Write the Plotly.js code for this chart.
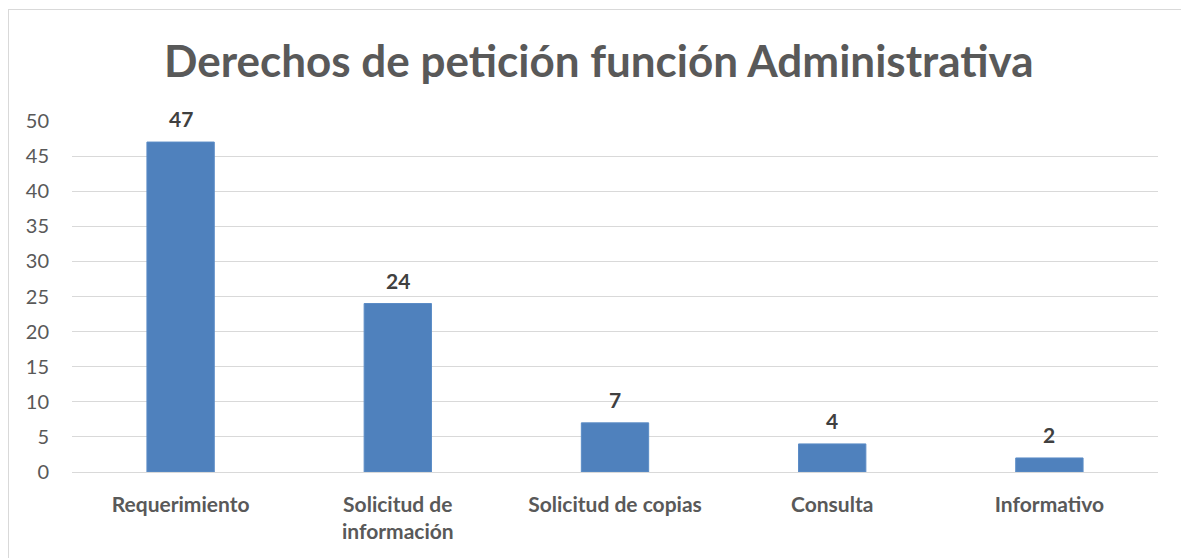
<!DOCTYPE html>
<html>
<head>
<meta charset="utf-8">
<script src="https://cdn.plot.ly/plotly-3.0.1.min.js"></script>
<style>
html,body{margin:0;padding:0;background:#fff;}
#wrap{position:relative;width:1181px;height:558px;overflow:hidden;}
#chart{width:1181px;height:558px;}
#frame{position:absolute;left:8px;top:9px;width:1300px;height:700px;border-top:1px solid #d9d9d9;border-left:1px solid #d9d9d9;pointer-events:none;}
</style>
</head>
<body>
<div id="wrap"><div id="chart"></div><div id="frame"></div></div>
<script>
const categories = ["Requerimiento", "Solicitud de<br>información", "Solicitud de copias", "Consulta", "Informativo"];
const values = [47, 24, 7, 4, 2];
const yTicks = [0, 5, 10, 15, 20, 25, 30, 35, 40, 45, 50];

const font = "Lato, 'Open Sans', sans-serif";

const trace = {
  type: "bar",
  x: categories,
  y: values,
  marker: {color: "#4f81bd", line: {color: "#5b8cc6", width: 1}},
  hoverinfo: "x+y"
};

const annotations = categories.map((c, i) => ({
  x: c, y: values[i], xref: "x", yref: "y",
  text: "<b>" + values[i] + "</b>",
  showarrow: false, yanchor: "bottom", yshift: 9,
  font: {family: font, size: 21, color: "#404040"}
}));

const layout = {
  width: 1181, height: 558,
  margin: {l: 72, r: 23, t: 121, b: 86},
  paper_bgcolor: "#ffffff", plot_bgcolor: "#ffffff",
  title: {
    text: "<b>Derechos de petición función Administrativa</b>",
    font: {family: font, size: 44, color: "#595959", weight: 900},
    x: 0.507, xanchor: "center", y: 0.89, yanchor: "middle", yref: "container"
  },
  bargap: 0.69,
  showlegend: false,
  xaxis: {
    type: "category",
    tickfont: {family: font, size: 21, color: "#595959", weight: "bold"},
    showgrid: false, zeroline: false, showline: false, ticks: "",
    ticklabelstandoff: 18
  },
  yaxis: {
    range: [0, 50], tickvals: yTicks, ticktext: yTicks.map(String),
    tickfont: {family: font, size: 20, color: "#595959"},
    showgrid: true, gridcolor: "#d9d9d9", gridwidth: 1,
    zeroline: true, zerolinecolor: "#d9d9d9", zerolinewidth: 1,
    showline: false, ticks: "", ticklabelstandoff: 22
  },
  annotations: annotations
};

Plotly.newPlot("chart", [trace], layout, {displayModeBar: false, staticPlot: true});
</script>
</body>
</html>
